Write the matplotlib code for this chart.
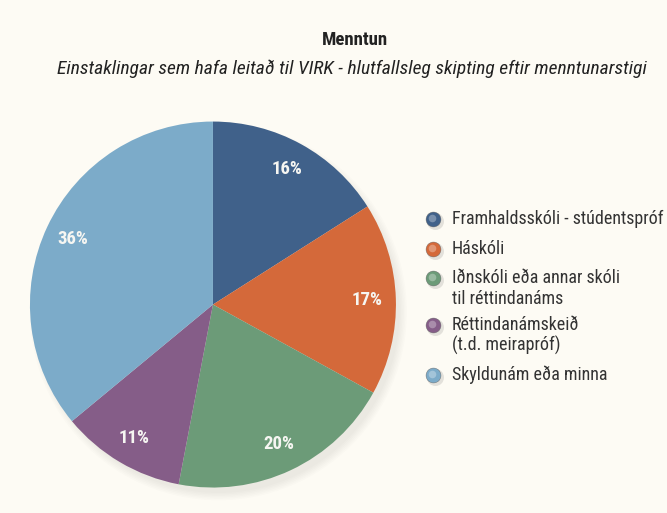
import matplotlib.pyplot as plt
from matplotlib import font_manager as fm
from matplotlib.patches import Circle

# pick a narrow sans if one is installed
fonts = fm.fontManager.ttflist
names = {f.name for f in fonts}
FONT = dict(family="DejaVu Sans")
narrow = False
for cand in ["Roboto Condensed", "Liberation Sans Narrow", "Open Sans Condensed", "Noto Sans Condensed"]:
    if cand in names:
        FONT = dict(family=cand)
        narrow = True
        break
if not narrow:
    for fam in ["DejaVu Sans", "Noto Sans", "Open Sans", "Roboto", "Inter"]:
        if any(f.name == fam and f.stretch in ("condensed", "semi-condensed", "extra-condensed")
               for f in fonts):
            FONT = dict(family=fam, stretch="condensed")
            narrow = True
            break

# data
flokkar = ["Framhaldsskóli - stúdentspróf", "Háskóli",
           "Iðnskóli eða annar skóli\ntil réttindanáms",
           "Réttindanámskeið\n(t.d. meirapróf)", "Skyldunám eða minna"]
hlutfall = [16, 17, 20, 11, 36]
litir = ["#40618a", "#d4693a", "#6c9b78", "#855d88", "#7cabc9"]

BG = "#fdfbf4"
k = 1.0 if narrow else 0.82

fig = plt.figure(figsize=(6.67, 5.13), dpi=100, facecolor=BG)

# pie, centre ~ (213, 304) px, radius ~183 px
ax = fig.add_axes([0.0394, 0.0425, 0.5597, 0.7277])
ax.set_facecolor(BG)
# faint shadow towards lower right
for i in range(6):
    ax.add_patch(Circle((0.03, -0.04), 0.99 + 0.008 * i, color="#000000", alpha=0.012,
                        linewidth=0, zorder=0, clip_on=False))
wedges, texts, pcts = ax.pie(hlutfall, colors=litir, startangle=90, counterclock=False,
                             autopct="%d%%", pctdistance=0.845, radius=1,
                             wedgeprops=dict(linewidth=0, zorder=2),
                             textprops=dict(color="#f6f6f2", fontsize=13.5, fontweight="bold", **FONT))
for t in pcts:
    t.set_zorder(5)
ax.set_xlim(-1.02, 1.02)
ax.set_ylim(-1.02, 1.02)
ax.axis("off")

# titles
fig.text(0.532, 0.922, "Menntun", ha="center", va="center", fontsize=13.5, fontweight="bold",
         color="#222222", **FONT)
fig.text(0.527, 0.867, "Einstaklingar sem hafa leitað til VIRK - hlutfallsleg skipting eftir menntunarstigi",
         ha="center", va="center", fontsize=14 * k, style="italic", color="#222222", **FONT)

# legend
lax = fig.add_axes([0, 0, 1, 1], facecolor="none")
lax.set_xlim(0, 667)
lax.set_ylim(513, 0)
lax.axis("off")
leg_y = [219, 249, 278, 325, 375]
for y, txt, c in zip(leg_y, flokkar, litir):
    lax.scatter([435], [y + 2], s=150, color="#000000", alpha=0.1, linewidths=0, zorder=2)
    lax.scatter([433], [y], s=115, color=c, edgecolors="#666666", linewidths=0.3, zorder=3)
    lax.scatter([431.8], [y - 1.2], s=30, color="white", alpha=0.3, linewidths=0, zorder=4)
    for i, line in enumerate(txt.split("\n")):
        lax.text(452, y + 20.5 * i, line, ha="left", va="center", fontsize=13 * k,
                 color="#333333", **FONT)

fig.savefig("out.png", dpi=100, facecolor=BG)
